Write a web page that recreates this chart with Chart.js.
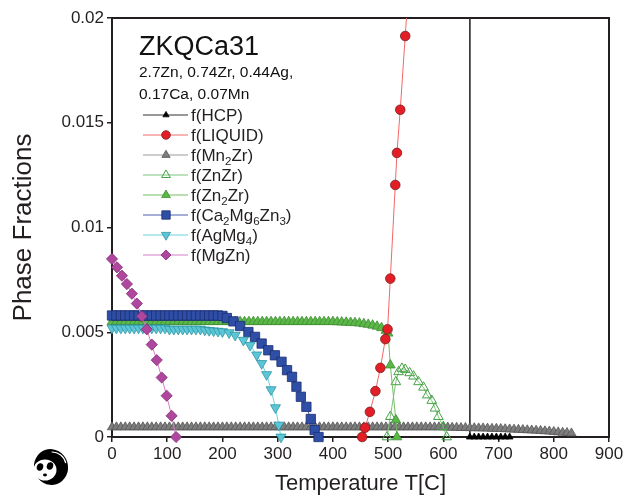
<!DOCTYPE html>
<html lang="en">
<head>
<meta charset="UTF-8">
<title>ZKQCa31 phase fractions</title>
<script src="https://cdn.jsdelivr.net/npm/chart.js@4"></script>
<style>
  html, body { margin: 0; padding: 0; background: #fff; }
  #wrap { width: 633px; height: 500px; }
</style>
</head>
<body>
<div id="wrap"><canvas id="chart" width="633" height="500"></canvas></div>
<script>
// alloy label
const alloyName = 'ZKQCa31';
const alloyLines = ['2.7Zn, 0.74Zr, 0.44Ag,', '0.17Ca, 0.07Mn'];

// axis ticks
const xTicks = [0, 100, 200, 300, 400, 500, 600, 700, 800, 900];
const yTicks = [0, 0.005, 0.01, 0.015, 0.02];
const yTickLabels = ['0', '0.005', '0.01', '0.015', '0.02'];

// f(HCP) - drops from ~1 to 0 at the solidus
const tHCP = [648, 648, 656, 664, 672, 680, 688, 696, 704, 712, 720];
const fHCP = [0.99, 0, 0, 0, 0, 0, 0, 0, 0, 0, 0];

// f(LIQUID)
const tLiquid = [453, 458, 467, 477, 486, 495, 499, 504, 513, 516, 522, 531, 540];
const fLiquid = [0, 0.00044, 0.0012, 0.00219, 0.0033, 0.00467, 0.00514, 0.00756, 0.01203, 0.01356, 0.01562, 0.01914, 0.0226];

// f(Mn2Zr)
const tMn2Zr = [0, 8, 16, 24, 32, 40, 48, 56, 64, 72, 80, 88, 96, 104, 112, 120, 128, 136, 144, 152,
  160, 168, 176, 184, 192, 200, 208, 216, 224, 232, 240, 248, 256, 264, 272, 280, 288, 296, 304, 312,
  320, 328, 336, 344, 352, 360, 368, 376, 384, 392, 400, 408, 416, 424, 432, 440, 448, 456, 464, 472,
  480, 488, 496, 504, 512, 520, 528, 536, 544, 552, 560, 568, 576, 584, 592, 600, 608, 616, 624, 632,
  640, 648, 656, 664, 672, 680, 688, 696, 704, 712, 720, 728, 736, 744, 752, 760, 768, 776, 784, 792,
  800, 808, 816, 824, 832];
const fMn2Zr = [0.00047, 0.00047, 0.00047, 0.00047, 0.00047, 0.00047, 0.00047, 0.00047, 0.00047, 0.00047,
  0.00047, 0.00047, 0.00047, 0.00047, 0.00047, 0.00047, 0.00047, 0.00047, 0.00047, 0.00047,
  0.00047, 0.00047, 0.00047, 0.00047, 0.00047, 0.00047, 0.00047, 0.00047, 0.00047, 0.00047,
  0.00047, 0.00047, 0.00047, 0.00047, 0.00047, 0.00047, 0.00047, 0.00047, 0.00047, 0.00047,
  0.00047, 0.00047, 0.00047, 0.00047, 0.00047, 0.00047, 0.00047, 0.00047, 0.00047, 0.00047,
  0.00047, 0.00047, 0.00047, 0.00047, 0.00047, 0.00047, 0.00047, 0.00047, 0.00047, 0.00047,
  0.00047, 0.00047, 0.00047, 0.00047, 0.00047, 0.00047, 0.00047, 0.00047, 0.00047, 0.00047,
  0.00047, 0.00047, 0.00047, 0.00047, 0.00047,
  0.00046, 0.00046, 0.00045, 0.00045, 0.00044, 0.00044, 0.00043, 0.00043, 0.00042, 0.00042,
  0.00041, 0.0004, 0.0004, 0.00039, 0.00038, 0.00037, 0.00036, 0.00035, 0.00034, 0.00033,
  0.00032, 0.00031, 0.0003, 0.00028, 0.00027, 0.00025, 0.00023, 0.00021, 0.0002, 0.00018];

// f(ZnZr)
const tZnZr = [498, 504, 514, 519, 525, 531, 539, 546, 555, 564, 571, 579, 585, 591, 600, 606];
const fZnZr = [0, 0.00097, 0.00263, 0.00311, 0.00327, 0.00322, 0.00306, 0.0029, 0.00263, 0.00237,
  0.002, 0.00174, 0.00137, 0.00097, 0.00049, 0];

// f(Zn2Zr)
const tZn2Zr = [0, 8, 16, 24, 32, 40, 48, 56, 64, 72, 80, 88, 96, 104, 112, 120, 128, 136, 144, 152,
  160, 168, 176, 184, 192, 200, 208, 216, 224, 232, 240, 248, 256, 264, 272, 280, 288, 296, 304, 312,
  320, 328, 336, 344, 352, 360, 368, 376, 384, 392, 400, 408, 416, 424, 432, 440, 448, 456, 464, 472,
  480, 488, 496, 500, 504, 514, 516];
const fZn2Zr = [0.0055, 0.0055, 0.0055, 0.0055, 0.0055, 0.0055, 0.0055, 0.0055, 0.0055, 0.0055,
  0.0055, 0.0055, 0.0055, 0.0055, 0.0055, 0.0055, 0.0055, 0.0055, 0.0055, 0.0055,
  0.0055, 0.0055, 0.0055, 0.0055, 0.0055, 0.0055, 0.0055, 0.0055, 0.0055, 0.0055,
  0.0055, 0.0055, 0.0055, 0.0055, 0.0055, 0.0055, 0.0055, 0.0055, 0.0055, 0.0055,
  0.0055, 0.0055, 0.0055, 0.0055, 0.0055, 0.0055, 0.0055, 0.0055, 0.0055, 0.0055, 0.0055,
  0.00549, 0.00548, 0.00547, 0.00546, 0.00545, 0.00543, 0.0054, 0.00537, 0.00533,
  0.00528, 0.00521, 0.00508, 0.00495, 0.00343, 0.00081, 0];

// f(Ca2Mg6Zn3)
const tCaMgZn = [0, 8, 16, 24, 32, 40, 48, 56, 64, 72, 80, 88, 96, 104, 112, 120, 128, 136, 144, 152,
  160, 168, 176, 184, 192, 200, 208, 220, 232, 247, 259, 271, 283, 295, 307, 317, 326, 334, 342, 352,
  360, 367, 374];
const fCaMgZn = [0.0058, 0.0058, 0.0058, 0.0058, 0.0058, 0.0058, 0.0058, 0.0058, 0.0058, 0.0058,
  0.0058, 0.0058, 0.0058, 0.0058, 0.0058, 0.0058, 0.0058, 0.0058, 0.0058, 0.0058,
  0.0058, 0.0058, 0.0058, 0.0058, 0.0058, 0.00578, 0.00568, 0.00552, 0.0053, 0.00501,
  0.00478, 0.00446, 0.00414, 0.0039, 0.00359, 0.00319, 0.00287, 0.0024, 0.00192, 0.00144,
  0.00086, 0.00033, 0];

// f(AgMg4)
const tAgMg4 = [0, 8, 16, 24, 32, 40, 48, 56, 64, 72, 80, 88, 96, 104, 112, 120, 128, 136, 144, 152,
  160, 168, 176, 184, 192, 200, 212, 223, 238, 250, 262, 271, 280, 288, 296, 302, 306];
const fAgMg4 = [0.0052, 0.0052, 0.0052, 0.0052, 0.0052, 0.0052, 0.0052, 0.0052, 0.0052, 0.0052,
  0.0052, 0.0052, 0.0052, 0.00515, 0.00515, 0.00515, 0.00515, 0.00515, 0.00515, 0.00515,
  0.00515, 0.00511, 0.00509, 0.00507, 0.00505, 0.00503, 0.00498, 0.00486, 0.00462, 0.00438,
  0.00392, 0.00351, 0.00298, 0.00226, 0.0014, 0.00057, 0];

// f(MgZn)
const tMgZn = [0, 9, 18, 27, 36, 45, 54, 63, 72, 81, 90, 99, 108, 116];
const fMgZn = [0.0085, 0.0081, 0.0077, 0.0073, 0.00684, 0.00637, 0.00576, 0.00514, 0.00441, 0.00367,
  0.00284, 0.00197, 0.00101, 0];

const FONT = "'Liberation Sans', Arial, sans-serif";
const INK = '#231f20';

function series(label, xs, ys, style) {
  return Object.assign({
    label: label,
    data: xs.map((x, i) => ({ x: x, y: ys[i] })),
    showLine: true,
    borderWidth: 1,
    pointBorderWidth: 0.8,
    tension: 0,
    clip: { left: 8, right: 8, top: 0, bottom: 8 }
  }, style);
}

const datasets = [
  series('f(HCP)', tHCP, fHCP, {
    borderColor: '#333333', pointStyle: 'triangle', pointRadius: 4,
    pointBackgroundColor: '#000', pointBorderColor: '#000', order: 7
  }),
  series('f(LIQUID)', tLiquid, fLiquid, {
    borderColor: '#f26868', pointStyle: 'circle', pointRadius: 4.8,
    pointBackgroundColor: '#e41e26', pointBorderColor: '#7a2020', order: 0
  }),
  series('f(Mn_2Zr)', tMn2Zr, fMn2Zr, {
    borderColor: '#9a9a9a', pointStyle: 'triangle', pointRadius: 5.3,
    pointBackgroundColor: '#7d7d7d', pointBorderColor: '#555', order: 6
  }),
  series('f(ZnZr)', tZnZr, fZnZr, {
    borderColor: '#7cc47c', pointStyle: 'triangle', pointRadius: 5.6,
    pointBackgroundColor: 'rgba(255,255,255,0)', pointBorderColor: '#45a045', pointBorderWidth: 1, order: 5
  }),
  series('f(Zn_2Zr)', tZn2Zr, fZn2Zr, {
    borderColor: '#72c060', pointStyle: 'triangle', pointRadius: 5.6,
    pointBackgroundColor: '#5bb847', pointBorderColor: '#3d8c32', order: 4
  }),
  series('f(Ca_2Mg_6Zn_3)', tCaMgZn, fCaMgZn, {
    borderColor: '#4a5fb0', pointStyle: 'rect', pointRadius: 6.6,
    pointBackgroundColor: '#2f4ea6', pointBorderColor: '#1b2d70', order: 3
  }),
  series('f(AgMg_4)', tAgMg4, fAgMg4, {
    borderColor: '#6cd0df', pointStyle: 'triangle', pointRotation: 180, pointRadius: 5.8,
    pointBackgroundColor: '#5dc6d6', pointBorderColor: '#2d95a5', order: 2
  }),
  series('f(MgZn)', tMgZn, fMgZn, {
    borderColor: '#d47fc8', pointStyle: 'rectRot', pointRadius: 5.6,
    pointBackgroundColor: '#b0479f', pointBorderColor: '#7f2d72', order: 1
  })
];

// text with "_x" meaning subscript x
function drawRich(ctx, text, x, y, size) {
  let cx = x;
  for (let i = 0; i < text.length; i++) {
    let ch = text[i], sub = false;
    if (ch === '_') { sub = true; ch = text[++i]; }
    ctx.font = (sub ? size * 0.68 : size) + 'px ' + FONT;
    ctx.fillText(ch, cx, sub ? y + 4 : y);
    cx += ctx.measureText(ch).width;
  }
}

const framePlugin = {
  id: 'frame',
  beforeDatasetsDraw(chart) {
    const { ctx, chartArea: a } = chart;
    ctx.save();
    ctx.strokeStyle = INK;
    ctx.lineWidth = 2;
    ctx.strokeRect(a.left, a.top, a.right - a.left, a.bottom - a.top);
    ctx.restore();
  }
};

const legendPlugin = {
  id: 'phaseLegend',
  afterDraw(chart) {
    const ctx = chart.ctx;
    ctx.save();
    ctx.fillStyle = '#111';
    ctx.textBaseline = 'alphabetic';
    ctx.font = '27px ' + FONT;
    ctx.fillText(alloyName, 139, 55);
    ctx.font = '15.5px ' + FONT;
    ctx.fillText(alloyLines[0], 139, 77);
    ctx.fillText(alloyLines[1], 139, 99);

    chart.data.datasets.forEach((ds, i) => {
      const y = 115 + i * 20;
      ctx.strokeStyle = ds.borderColor;
      ctx.lineWidth = 1;
      ctx.beginPath();
      ctx.moveTo(143, y);
      ctx.lineTo(188, y);
      ctx.stroke();
      ctx.fillStyle = ds.pointBackgroundColor;
      ctx.strokeStyle = ds.pointBorderColor;
      ctx.lineWidth = ds.pointBorderWidth;
      Chart.helpers.drawPoint(ctx, {
        pointStyle: ds.pointStyle, rotation: ds.pointRotation || 0,
        radius: ds.pointRadius * 0.9, borderWidth: ds.pointBorderWidth
      }, 166, y);
      ctx.fillStyle = INK;
      drawRich(ctx, ds.label, 191, y + 6, 17);
    });

    // little panda logo
    ctx.fillStyle = '#000';
    ctx.beginPath();
    ctx.ellipse(51, 467, 17, 18, -0.3, 0, Math.PI * 2);
    ctx.fill();
    ctx.fillStyle = '#fff';
    ctx.beginPath();
    ctx.ellipse(45, 470, 11.5, 10.5, 0, 0, Math.PI * 2);
    ctx.fill();
    ctx.fillStyle = '#000';
    [[40, 467], [50, 466]].forEach(p => {
      ctx.beginPath();
      ctx.ellipse(p[0], p[1], 3.2, 3.8, 0.3, 0, Math.PI * 2);
      ctx.fill();
    });
    ctx.beginPath();
    ctx.ellipse(45, 475, 2, 1.4, 0, 0, Math.PI * 2);
    ctx.fill();
    ctx.strokeStyle = '#fff';
    ctx.lineWidth = 1.2;
    ctx.beginPath();
    ctx.arc(52, 466, 14, -1.6, -0.2);
    ctx.stroke();
    ctx.restore();
  }
};

new Chart(document.getElementById('chart'), {
  type: 'scatter',
  data: { datasets: datasets },
  plugins: [framePlugin, legendPlugin],
  options: {
    responsive: false,
    animation: false,
    layout: { padding: { left: 0, top: 18, right: 24, bottom: 0 } },
    plugins: { legend: { display: false }, tooltip: { enabled: false } },
    scales: {
      x: {
        type: 'linear', min: 0, max: 900,
        afterBuildTicks: s => { s.ticks = xTicks.map(v => ({ value: v })); },
        ticks: { font: { size: 17, family: FONT }, color: INK, padding: 2, maxRotation: 0, autoSkip: false },
        grid: { drawOnChartArea: false, drawTicks: true, tickLength: 5, color: INK, lineWidth: 1.5 },
        border: { display: true, color: INK, width: 2 },
        title: {
          display: true, text: 'Temperature T[C]', color: INK,
          font: { size: 22, family: FONT }, padding: { top: 0, bottom: 2.4 }
        },
        afterFit: s => { s.height = 63; }
      },
      y: {
        type: 'linear', min: 0, max: 0.02,
        afterBuildTicks: s => { s.ticks = yTicks.map(v => ({ value: v })); },
        ticks: {
          font: { size: 17, family: FONT }, color: INK, padding: 3, autoSkip: false,
          callback: (v, i) => yTickLabels[i]
        },
        grid: { drawOnChartArea: false, drawTicks: true, tickLength: 5, color: INK, lineWidth: 1.5 },
        border: { display: true, color: INK, width: 2 },
        title: {
          display: true, text: 'Phase Fractions', color: INK,
          font: { size: 26, family: FONT }, padding: { top: 8.4, bottom: 0 }
        },
        afterFit: s => { s.width = 112; }
      }
    }
  }
});
</script>
</body>
</html>
